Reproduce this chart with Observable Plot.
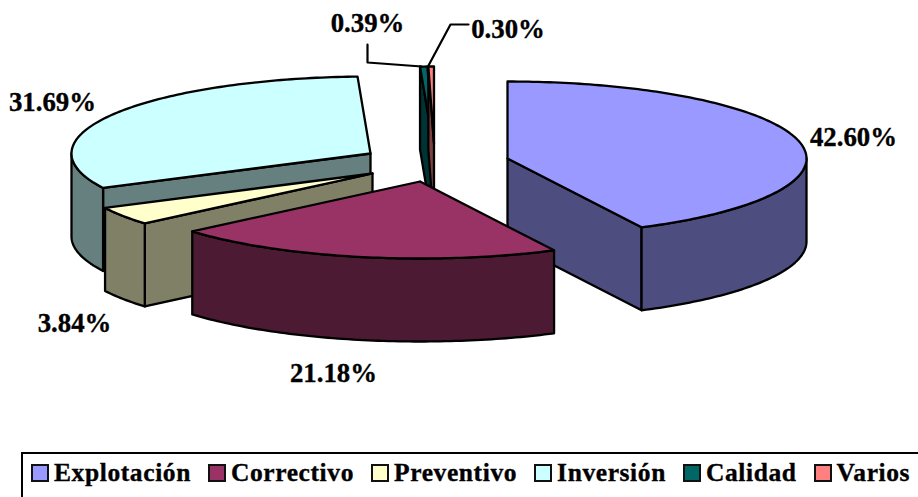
<!DOCTYPE html>
<html><head><meta charset="utf-8">
<script src="https://cdn.jsdelivr.net/npm/d3@7"></script>
<script src="https://cdn.jsdelivr.net/npm/@observablehq/plot@0.6"></script>
<style>
html,body{margin:0;padding:0;background:#fff;overflow:hidden}
#chart{width:918px;height:452px}
#legend{box-sizing:border-box;margin-left:21px;width:897px;height:45px;border-top:2.4px solid #000;border-left:2.4px solid #000;display:flex;align-items:center;font:bold 25.5px "Liberation Serif",serif;color:#000;padding:0 0 6px 8px;letter-spacing:.6px;-webkit-text-stroke:.35px #000}
#legend .item{display:flex;align-items:center;margin-right:17px}
#legend .sw{box-sizing:border-box;width:18px;height:18px;border:2.4px solid #111;margin-right:5px}
</style></head><body>
<div id="chart"></div>
<div id="legend"></div>
<script>
const categories = ["Explotación","Correctivo","Preventivo","Inversión","Calidad","Varios"];
const shares = [42.60,21.18,3.84,31.69,0.39,0.30];
const shareLabels = ["42.60%","21.18%","3.84%","31.69%","0.39%","0.30%"];
const topColors = ["#9999FF","#993366","#FFFFCC","#CCFFFF","#006666","#FF8080"];
const wallColors = ["#4D4D80","#4D1A33","#808066","#668080","#003333","#804040"];

// layout of the exploded 3-D pie
const rx = 299, ry = 77, depth = 83;
const apexX = [507,419.5,372,370,432.5,433.5];
const apexY = [158,181,173,153,143,143];
const paintOrder = [3,4,5,2,0,1];
const labelX = [853,333,74,52,367,507.5];
const labelY = [137,373,323,102,23,29];

const total = d3.sum(shares);
let acc = 0;
const slices = shares.map((v,i)=>{const s=acc; acc+=v/total*360; return {i,start:s,end:acc};});
const pt = (s,a,dy=0)=>{const r=a*Math.PI/180; return {x:apexX[s.i]+rx*Math.sin(r), y:apexY[s.i]-ry*Math.cos(r)+dy};};
const arc = (s,a0,a1,dy=0)=>{const n=Math.max(1,Math.ceil((a1-a0)/1)); return d3.range(n+1).map(k=>pt(s,a0+(a1-a0)*k/n,dy));};
const apex = (s,dy=0)=>({x:apexX[s.i],y:apexY[s.i]+dy});
const closed = p=>[...p,p[0]];
const face = (pts,fill)=>Plot.line(closed(pts),{x:"x",y:"y",fill,stroke:"#000",strokeWidth:2.3,strokeLinejoin:"round",curve:"linear"});

const marks=[];
for(const idx of paintOrder){
  const s=slices[idx];
  const wall=wallColors[idx];
  if(s.start>180 && s.start<360) marks.push(face([apex(s),pt(s,s.start),pt(s,s.start,depth),apex(s,depth)],wall));
  if(s.end>0 && s.end<180) marks.push(face([apex(s),pt(s,s.end),pt(s,s.end,depth),apex(s,depth)],wall));
  const a0=Math.max(s.start,90), a1=Math.min(s.end,270);
  if(a1>a0) marks.push(face([...arc(s,a0,a1),...arc(s,a0,a1,depth).reverse()],wall));
  marks.push(face([apex(s),...arc(s,s.start,s.end)],topColors[idx]));
}
// leader lines for the two tiny slices
const leader39=[{x:367,y:44},{x:367,y:62},{x:421,y:66}];
const leader30=[{x:468,y:24},{x:450,y:24},{x:428,y:65}];
marks.push(Plot.line(leader39,{x:"x",y:"y",stroke:"#000",strokeWidth:2.2}));
marks.push(Plot.line(leader30,{x:"x",y:"y",stroke:"#000",strokeWidth:2.2}));
const labels=shareLabels.map((t,i)=>({t,x:labelX[i],y:labelY[i]}));
marks.push(Plot.text(labels,{x:"x",y:"y",text:"t",textAnchor:"middle",lineAnchor:"middle",fill:"#000",stroke:"#000",strokeWidth:.35,fontSize:26.8,fontWeight:"bold",fontFamily:"Liberation Serif"}));

const svg=Plot.plot({width:918,height:452,margin:0,
  x:{domain:[0,918],range:[0,918],axis:null},
  y:{domain:[0,452],range:[0,452],axis:null},
  style:{background:"#fff"},marks});
document.getElementById("chart").append(svg);

const lg=document.getElementById("legend");
categories.forEach((c,i)=>{
  const it=document.createElement("div");it.className="item";
  const sw=document.createElement("div");sw.className="sw";sw.style.background=topColors[i];
  const tx=document.createElement("span");tx.textContent=c;
  it.append(sw,tx);lg.append(it);
});
</script></body></html>
